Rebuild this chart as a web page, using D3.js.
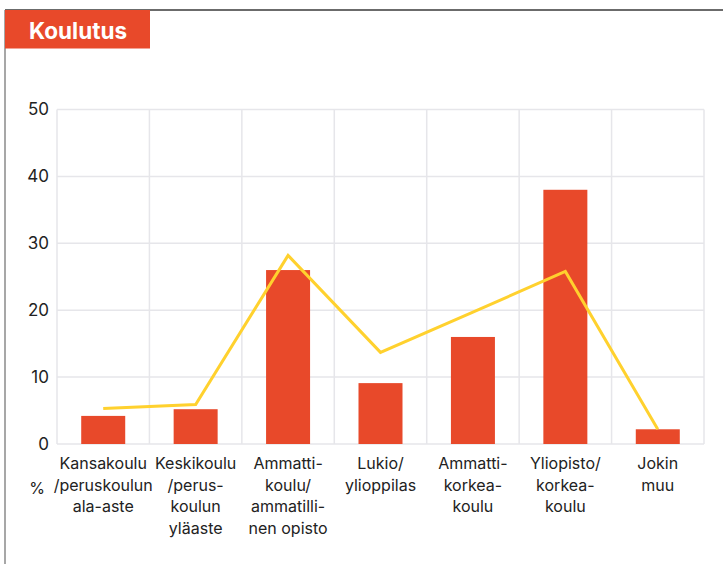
<!DOCTYPE html>
<html>
<head>
<meta charset="utf-8">
<script src="https://cdn.jsdelivr.net/npm/d3@7"></script>
<style>
  body { margin: 0; background: #fff; }
  text { font-family: Inter, "Noto Sans", sans-serif; }
</style>
</head>
<body>
<svg id="chart" width="723" height="564"></svg>
<script>
// data
var categories = [
  ["Kansakoulu", "/peruskoulun", "ala-aste"],
  ["Keskikoulu", "/perus-", "koulun", "yläaste"],
  ["Ammatti-", "koulu/", "ammatilli-", "nen opisto"],
  ["Lukio/", "ylioppilas"],
  ["Ammatti-", "korkea-", "koulu"],
  ["Yliopisto/", "korkea-", "koulu"],
  ["Jokin", "muu"]
];
var barValues = [4.2, 5.2, 26.0, 9.1, 16.0, 38.0, 2.2];
var lineValues = [5.3, 5.9, 28.2, 13.7, 19.7, 25.8, 2.2];
var yTicks = [0, 10, 20, 30, 40, 50];

var svg = d3.select("#chart");
var W = 723, H = 564;
var plot = { left: 57, top: 109.5, right: 704, bottom: 444 };

// frame + title tab
svg.append("line").attr("x1", 5).attr("x2", W).attr("y1", 10).attr("y2", 10)
  .attr("stroke", "#3a3a3a").attr("stroke-width", 1.5);
svg.append("line").attr("x1", 5).attr("x2", 5).attr("y1", 10).attr("y2", H)
  .attr("stroke", "#8a8a8a").attr("stroke-width", 1.5);
svg.append("rect").attr("x", 5).attr("y", 10).attr("width", 145).attr("height", 38.5)
  .attr("fill", "#e8492a");
svg.append("text").attr("x", 29).attr("y", 38.5).text("Koulutus")
  .attr("fill", "#fff").attr("font-size", 22.5).attr("font-weight", 700);

var idx = d3.range(categories.length);
var x = d3.scaleBand().domain(idx).range([plot.left, plot.right]).paddingInner(0).paddingOuter(0);
var y = d3.scaleLinear().domain([0, 50]).range([plot.bottom, plot.top]);

var g = svg.append("g");

// grid
g.selectAll(".hgrid").data(yTicks).join("line")
  .attr("x1", plot.left).attr("x2", plot.right)
  .attr("y1", d => y(d)).attr("y2", d => y(d))
  .attr("stroke", "#e6e6ea").attr("stroke-width", 1.5);
g.selectAll(".vgrid").data(d3.range(categories.length + 1)).join("line")
  .attr("x1", d => plot.left + d * x.bandwidth()).attr("x2", d => plot.left + d * x.bandwidth())
  .attr("y1", plot.top).attr("y2", plot.bottom)
  .attr("stroke", "#e6e6ea").attr("stroke-width", 1.5);

// y axis labels
var yAxis = d3.axisLeft(y).tickValues(yTicks).tickSize(0).tickPadding(8);
var ya = svg.append("g").attr("transform", "translate(" + plot.left + ",0)").call(yAxis);
ya.select(".domain").remove();
ya.selectAll("text").attr("font-size", 17).attr("fill", "#222")
  .style("font-family", "Inter, 'Noto Sans', sans-serif");

// bars
var barW = 44;
g.selectAll(".bar").data(barValues).join("rect")
  .attr("x", (d, i) => x(i) + x.bandwidth() / 2 - barW / 2)
  .attr("width", barW)
  .attr("y", d => y(d))
  .attr("height", d => y(0) - y(d))
  .attr("fill", "#e8492a");

// line
var line = d3.line().x((d, i) => x(i) + x.bandwidth() / 2).y(d => y(d));
g.append("path").datum(lineValues).attr("d", line)
  .attr("fill", "none").attr("stroke", "#ffd12e").attr("stroke-width", 3)
  .attr("stroke-linejoin", "miter");

// x labels
var labels = svg.selectAll(".xl").data(categories).join("text")
  .attr("text-anchor", "middle").attr("font-size", 16).attr("fill", "#222")
  .attr("transform", (d, i) => "translate(" + (x(i) + x.bandwidth() / 2) + ",469)");
labels.selectAll("tspan").data(d => d).join("tspan")
  .attr("x", 0).attr("y", (d, j) => j * 21.7).text(d => d);

svg.append("text").attr("x", 37).attr("y", 494).attr("text-anchor", "middle")
  .attr("font-size", 16).attr("fill", "#222").text("%");
</script>
</body>
</html>
